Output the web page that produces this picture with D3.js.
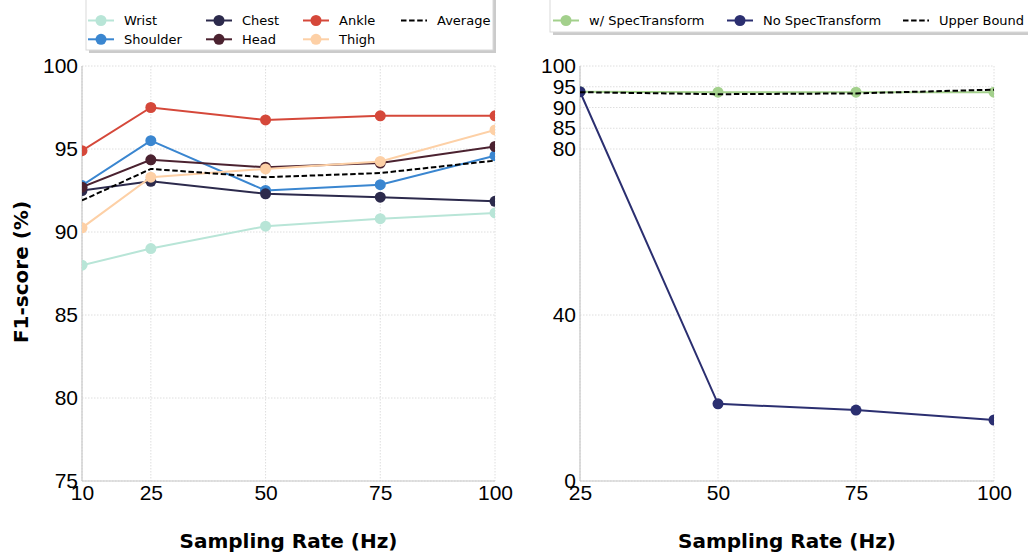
<!DOCTYPE html>
<html>
<head>
<meta charset="utf-8">
<script src="https://cdn.jsdelivr.net/npm/d3@7"></script>
<style>
  body { margin: 0; background: #fff; }
  svg { font-family: "DejaVu Sans", sans-serif; }
  .axis path, .axis line { display: none; }
  .axis text { fill: #000; }
</style>
</head>
<body>
<div id="chart"></div>
<script>
// ---- data ----
const leftRates = [10, 25, 50, 75, 100];
const wrist    = [88.0, 89.0, 90.35, 90.8, 91.15];
const shoulder = [92.8, 95.5, 92.5, 92.85, 94.6];
const chest    = [92.5, 93.05, 92.3, 92.1, 91.85];
const head     = [92.7, 94.35, 93.9, 94.15, 95.15];
const ankle    = [94.9, 97.5, 96.75, 97.0, 97.0];
const thigh    = [90.25, 93.3, 93.8, 94.25, 96.15];
const average  = [91.9, 93.8, 93.3, 93.55, 94.3];
const leftYTicks = [75, 80, 85, 90, 95, 100];

const rightRates = [25, 50, 75, 100];
const withSpec   = [93.8, 93.7, 93.7, 93.7];
const noSpec     = [93.8, 18.6, 17.1, 14.7];
const upperBound = [93.7, 93.2, 93.4, 94.3];
const rightYTicks = [0, 40, 80, 85, 90, 95, 100];

const leftSeries = [
  {name: 'Wrist', values: wrist, color: '#b8e5d7'},
  {name: 'Shoulder', values: shoulder, color: '#3a86d0'},
  {name: 'Chest', values: chest, color: '#2c2a4c'},
  {name: 'Head', values: head, color: '#4b2230'},
  {name: 'Ankle', values: ankle, color: '#d5483a'},
  {name: 'Thigh', values: thigh, color: '#fdd0a6'},
  {name: 'Average', values: average, color: '#000', dashed: true}
];
const rightSeries = [
  {name: 'w/ SpecTransform', values: withSpec, color: '#a3d08c'},
  {name: 'No SpecTransform', values: noSpec, color: '#2b2f70'},
  {name: 'Upper Bound', values: upperBound, color: '#000', dashed: true}
];

const W = 1028, H = 553;
const svg = d3.select('#chart').append('svg').attr('width', W).attr('height', H);

function drawPanel(id, x0, x1, rates, yDomain, yTicks, series) {
  const top = 66, bottom = 481;
  const xScale = d3.scaleLinear().domain([rates[0], rates[rates.length - 1]]).range([x0, x1]);
  const yScale = d3.scaleLinear().domain(yDomain).range([bottom, top]);

  // grid
  const grid = svg.append('g');
  grid.selectAll('.gy').data(yTicks).join('line')
    .attr('x1', x0).attr('x2', x1)
    .attr('y1', d => yScale(d)).attr('y2', d => yScale(d))
    .attr('stroke', '#d6d6d6').attr('stroke-width', 0.8).attr('stroke-dasharray', '1.5,1.5');
  grid.selectAll('.gx').data(rates).join('line')
    .attr('x1', d => xScale(d)).attr('x2', d => xScale(d))
    .attr('y1', top).attr('y2', bottom)
    .attr('stroke', '#d6d6d6').attr('stroke-width', 0.8).attr('stroke-dasharray', '1.5,1.5');

  // spines
  svg.append('line').attr('x1', x0).attr('x2', x0).attr('y1', top).attr('y2', bottom)
    .attr('stroke', '#c8c8c8').attr('stroke-width', 1.2);
  svg.append('line').attr('x1', x0).attr('x2', x1).attr('y1', bottom).attr('y2', bottom)
    .attr('stroke', '#c8c8c8').attr('stroke-width', 1.2);

  // clip
  svg.append('clipPath').attr('id', id)
    .append('rect').attr('x', x0).attr('y', top).attr('width', x1 - x0).attr('height', bottom - top);
  const inner = svg.append('g').attr('clip-path', `url(#${id})`);

  series.forEach(s => {
    const line = d3.line().x((d, i) => xScale(rates[i])).y(d => yScale(d));
    inner.append('path')
      .datum(s.values)
      .attr('d', line)
      .attr('fill', 'none')
      .attr('stroke', s.color)
      .attr('stroke-width', 2)
      .attr('stroke-dasharray', s.dashed ? '5.5,2.6' : null);
    if (!s.dashed) {
      inner.selectAll(null).data(s.values).join('circle')
        .attr('cx', (d, i) => xScale(rates[i]))
        .attr('cy', d => yScale(d))
        .attr('r', 5.5)
        .attr('fill', s.color);
    }
  });

  // axes
  svg.append('g').attr('class', 'axis')
    .attr('transform', `translate(0,${bottom})`)
    .call(d3.axisBottom(xScale).tickValues(rates).tickSize(0).tickPadding(4))
    .selectAll('text').style('font-size', '21px');
  svg.append('g').attr('class', 'axis')
    .attr('transform', `translate(${x0},0)`)
    .call(d3.axisLeft(yScale).tickValues(yTicks).tickSize(0).tickPadding(4))
    .selectAll('text').style('font-size', '21px');

  svg.append('text')
    .attr('x', (x0 + x1) / 2).attr('y', 548)
    .attr('text-anchor', 'middle')
    .style('font-size', '20px').style('font-weight', 'bold')
    .text('Sampling Rate (Hz)');
}

function drawLegend(box, items, cols) {
  // shadow + frame
  svg.append('rect').attr('x', box.x + 3).attr('y', box.y + 3)
    .attr('width', box.w).attr('height', box.h).attr('fill', '#a8a8a8').attr('opacity', 0.6);
  svg.append('rect').attr('x', box.x).attr('y', box.y)
    .attr('width', box.w).attr('height', box.h).attr('fill', '#fff')
    .attr('stroke', '#d9d9d9').attr('stroke-width', 1);
  items.forEach((s, i) => {
    const c = cols[i];
    const g = svg.append('g');
    g.append('line').attr('x1', c.x).attr('x2', c.x + 26).attr('y1', c.y).attr('y2', c.y)
      .attr('stroke', s.color).attr('stroke-width', 2)
      .attr('stroke-dasharray', s.dashed ? '5.5,2.6' : null);
    if (!s.dashed) {
      g.append('circle').attr('cx', c.x + 13).attr('cy', c.y).attr('r', 5.5).attr('fill', s.color);
    }
    g.append('text').attr('x', c.x + 36).attr('y', c.y).attr('dy', '0.36em')
      .style('font-size', '13px').text(s.name);
  });
}

drawPanel('clipL', 82, 495, leftRates, [75, 100], leftYTicks, leftSeries);
drawPanel('clipR', 580, 994, rightRates, [0, 100], rightYTicks, rightSeries);

// y title
svg.append('text')
  .attr('transform', 'translate(28,272) rotate(-90)')
  .attr('text-anchor', 'middle')
  .style('font-size', '20px').style('font-weight', 'bold')
  .text('F1-score (%)');

const lc = [88, 206, 303, 401];
drawLegend({x: 86, y: -6, w: 407, h: 56}, leftSeries, [
  {x: lc[0], y: 20.5}, {x: lc[0], y: 39.3},
  {x: lc[1], y: 20.5}, {x: lc[1], y: 39.3},
  {x: lc[2], y: 20.5}, {x: lc[2], y: 39.3},
  {x: lc[3], y: 20.5}
]);
drawLegend({x: 550, y: -6, w: 490, h: 38}, rightSeries, [
  {x: 553, y: 20.5}, {x: 727, y: 20.5}, {x: 903, y: 20.5}
]);
</script>
</body>
</html>
